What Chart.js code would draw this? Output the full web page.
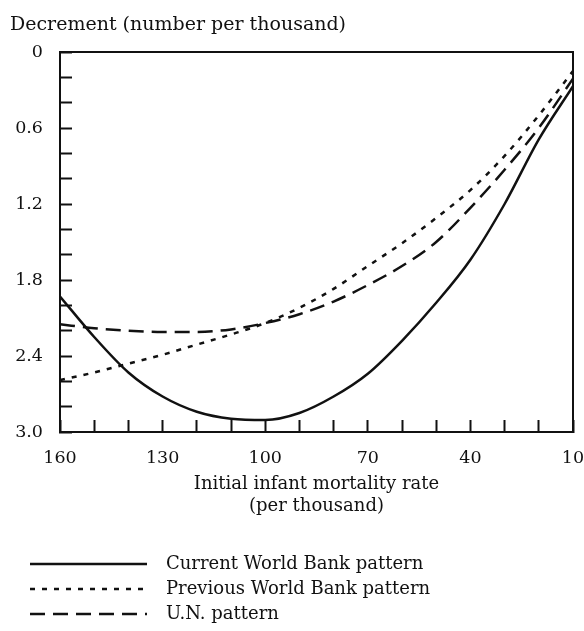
<!DOCTYPE html>
<html lang="en">
<head>
    <meta charset="UTF-8">
    <title>Infant mortality decrement patterns</title>
    <script src="https://cdn.jsdelivr.net/npm/chart.js"></script>
    <style>
        html, body { margin: 0; padding: 0; background: #fff; }
        #wrap { width: 584px; height: 631px; }
    </style>
</head>
<body>
<div id="wrap">
    <canvas id="chart" width="584" height="631"></canvas>
</div>
<script>
    // Initial infant mortality rate (per thousand) on the x axis
    const mortality = [160, 150, 140, 130, 120, 110, 100, 90, 80, 70, 60, 50, 40, 30, 20, 10];

    // Decrement (number per thousand)
    const currentWB  = [1.93, 2.25, 2.53, 2.72, 2.84, 2.895, 2.905, 2.85, 2.72, 2.54, 2.28, 1.98, 1.64, 1.20, 0.69, 0.27];
    const previousWB = [2.59, 2.53, 2.46, 2.39, 2.31, 2.23, 2.14, 2.02, 1.87, 1.69, 1.51, 1.31, 1.09, 0.82, 0.50, 0.15];
    const unPattern  = [2.15, 2.18, 2.20, 2.21, 2.21, 2.19, 2.14, 2.07, 1.97, 1.84, 1.69, 1.50, 1.23, 0.93, 0.60, 0.21];

    const seriesNames = ['Current World Bank pattern', 'Previous World Bank pattern', 'U.N. pattern'];
    const yTitle = 'Decrement (number per thousand)';
    const xTitle = ['Initial infant mortality rate', '(per thousand)'];

    const ink = '#111';
    const family = '"DejaVu Serif", "Liberation Serif", serif';
    const tickFont = { family, size: 17.5, weight: 'normal' };

    const toPoints = arr => arr.map((v, i) => ({ x: mortality[i], y: v }));

    // closed box round the plot area
    const frame = {
        id: 'frame',
        afterDraw(chart) {
            const a = chart.chartArea, ctx = chart.ctx;
            ctx.save();
            ctx.strokeStyle = ink;
            ctx.lineWidth = 2;
            ctx.strokeRect(a.left, a.top, a.right - a.left, a.bottom - a.top);
            ctx.restore();
        }
    };

    // legend stacked under the axis title, one row per series
    const stackedLegend = {
        id: 'stackedLegend',
        afterDraw(chart) {
            const ctx = chart.ctx;
            const rows = [564, 589, 614];
            ctx.save();
            chart.data.datasets.forEach((ds, i) => {
                const y = rows[i];
                ctx.strokeStyle = ds.borderColor;
                ctx.lineWidth = ds.borderWidth;
                ctx.setLineDash(ds.borderDash || []);
                ctx.beginPath();
                ctx.moveTo(30, y);
                ctx.lineTo(147, y);
                ctx.stroke();
                ctx.setLineDash([]);
                ctx.fillStyle = ink;
                ctx.font = '18px ' + family;
                ctx.textBaseline = 'middle';
                ctx.textAlign = 'left';
                ctx.fillText(ds.label, 166, y);
            });
            ctx.restore();
        }
    };

    const lineStyle = { borderColor: ink, borderWidth: 2.5, pointRadius: 0, fill: false, cubicInterpolationMode: 'monotone' };

    new Chart(document.getElementById('chart'), {
        type: 'line',
        data: {
            datasets: [
                { ...lineStyle, label: seriesNames[0], data: toPoints(currentWB) },
                { ...lineStyle, label: seriesNames[1], data: toPoints(previousWB), borderDash: [5, 7] },
                { ...lineStyle, label: seriesNames[2], data: toPoints(unPattern), borderDash: [15, 8] }
            ]
        },
        options: {
            responsive: false,
            devicePixelRatio: 1,
            animation: false,
            layout: { padding: { left: 10, top: 0, right: 11, bottom: 113 } },
            plugins: {
                legend: { display: false },
                tooltip: { enabled: false },
                title: {
                    display: true,
                    text: yTitle,
                    align: 'start',
                    color: ink,
                    font: { family, size: 19, weight: 'normal', lineHeight: 1.2 },
                    padding: { top: 14, bottom: 15.2 }
                }
            },
            scales: {
                x: {
                    type: 'linear',
                    reverse: true,
                    min: 10,
                    max: 160,
                    border: { color: ink, width: 2 },
                    grid: { drawOnChartArea: false, tickLength: -12, tickWidth: 2, tickColor: ink },
                    ticks: {
                        stepSize: 10,
                        autoSkip: false,
                        maxRotation: 0,
                        padding: 28,
                        color: ink,
                        font: tickFont,
                        callback: v => ((v - 10) % 30 === 0 ? String(v) : '')
                    },
                    title: {
                        display: true,
                        text: xTitle,
                        color: ink,
                        font: { family, size: 18, weight: 'normal', lineHeight: 1.25 },
                        padding: { top: 0, bottom: 0 }
                    },
                    afterFit: s => {
                        s.height = 86;
                        s.paddingLeft = 0;
                        s.paddingRight = 0;
                    }
                },
                y: {
                    type: 'linear',
                    reverse: true,
                    min: 0,
                    max: 3,
                    border: { color: ink, width: 2 },
                    grid: { drawOnChartArea: false, tickLength: -12, tickWidth: 2, tickColor: ink },
                    ticks: {
                        stepSize: 0.2,
                        autoSkip: false,
                        padding: 29,
                        color: ink,
                        font: tickFont,
                        callback: v => {
                            const t = Math.round(v * 10);
                            if (t % 6 !== 0) return '';
                            return t === 0 ? '0' : (t / 10).toFixed(1);
                        }
                    },
                    afterFit: s => {
                        s.width = 50;
                        s.paddingTop = 0;
                        s.paddingBottom = 0;
                    }
                }
            }
        },
        plugins: [frame, stackedLegend]
    });
</script>
</body>
</html>
